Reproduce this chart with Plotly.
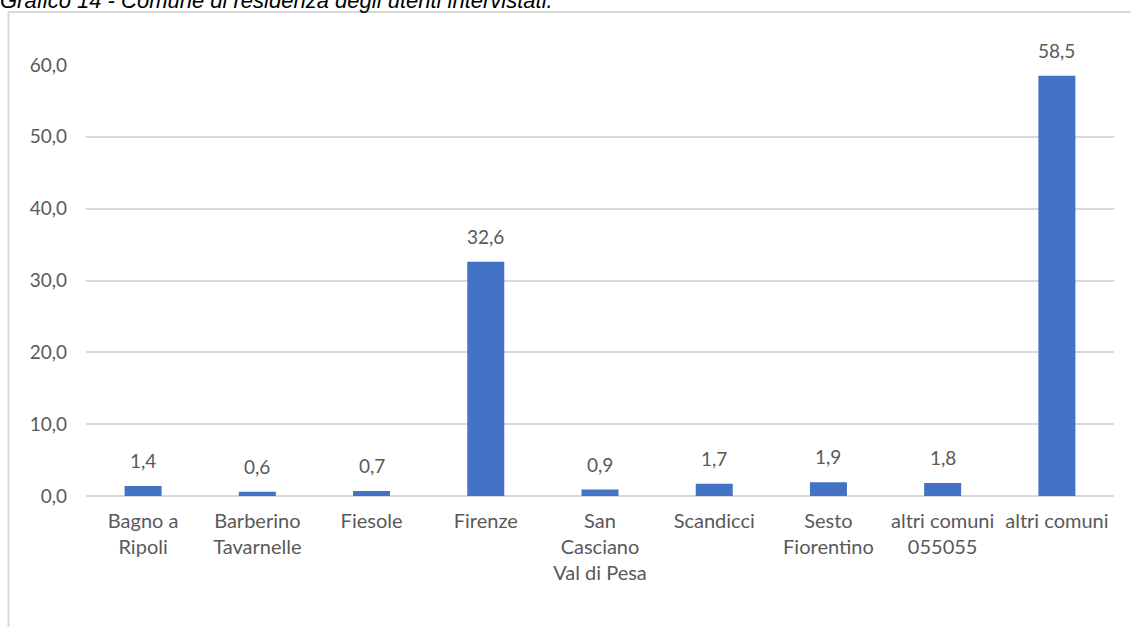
import plotly.graph_objects as go

# Comune di residenza (% degli utenti intervistati)
comuni = [
    "Bagno a<br>Ripoli",
    "Barberino<br>Tavarnelle",
    "Fiesole",
    "Firenze",
    "San<br>Casciano<br>Val di Pesa",
    "Scandicci",
    "Sesto<br>Fiorentino",
    "altri comuni<br>055055",
    "altri comuni",
]
percentuali = [1.4, 0.6, 0.7, 32.6, 0.9, 1.7, 1.9, 1.8, 58.5]
tick_valori = [0, 10, 20, 30, 40, 50, 60]
tick_etichette = ["0,0", "10,0", "20,0", "30,0", "40,0", "50,0", "60,0"]

W, H = 1131, 627
L, R, T, B = 86, 17, 65, 131
plot_w = W - L - R
plot_h = H - T - B


def px_x(px):
    return (px - L) / plot_w


def px_y(py):
    return (H - B - py) / plot_h


font_main = "Lato, 'Open Sans', sans-serif"
text_col = "#595959"
grid_col = "#d9d9d9"

fig = go.Figure(
    go.Bar(
        x=comuni,
        y=percentuali,
        marker=dict(color="#4472C4", line=dict(width=0)),
        cliponaxis=False,
        hoverinfo="x+y",
    )
)

# value labels above each bar
value_labels = [
    dict(
        x=c, y=v, xref="x", yref="y",
        text=f"{v:.1f}".replace(".", ","),
        showarrow=False, yanchor="bottom", yshift=12,
        font=dict(family=font_main, size=19, color=text_col),
    )
    for c, v in zip(comuni, percentuali)
]

title = dict(
    text="<i>Grafico 14 - Comune di residenza degli utenti intervistati.</i>",
    xref="paper", yref="paper",
    x=px_x(-2), y=px_y(15),
    xanchor="left", yanchor="bottom",
    showarrow=False,
    font=dict(family="Liberation Sans, Arial, sans-serif", size=22, color="#000000"),
)

fig.update_layout(
    width=W,
    height=H,
    margin=dict(l=L, r=R, t=T, b=B),
    paper_bgcolor="white",
    plot_bgcolor="white",
    separators=",.",
    bargap=0.676,
    showlegend=False,
    font=dict(family=font_main, size=19, color=text_col),
    xaxis=dict(
        showgrid=False,
        showline=False,
        ticks="",
        tickfont=dict(family=font_main, size=20, color=text_col),
        ticklabelstandoff=11,
    ),
    yaxis=dict(
        range=[0, 60],
        tickvals=tick_valori,
        ticktext=tick_etichette,
        showgrid=True,
        gridcolor=grid_col,
        gridwidth=1.5,
        zeroline=True,
        zerolinecolor=grid_col,
        zerolinewidth=2,
        showline=False,
        ticks="",
        tickfont=dict(family=font_main, size=19, color=text_col),
        ticklabelstandoff=18,
    ),
    shapes=[
        # chart frame (top and left edges)
        dict(type="line", xref="paper", yref="paper",
             x0=px_x(8), x1=px_x(W + 2), y0=px_y(12), y1=px_y(12),
             line=dict(color=grid_col, width=2)),
        dict(type="line", xref="paper", yref="paper",
             x0=px_x(8.5), x1=px_x(8.5), y0=px_y(12), y1=px_y(H + 2),
             line=dict(color=grid_col, width=2)),
    ],
    annotations=value_labels + [title],
)

fig.write_html("out.html")
